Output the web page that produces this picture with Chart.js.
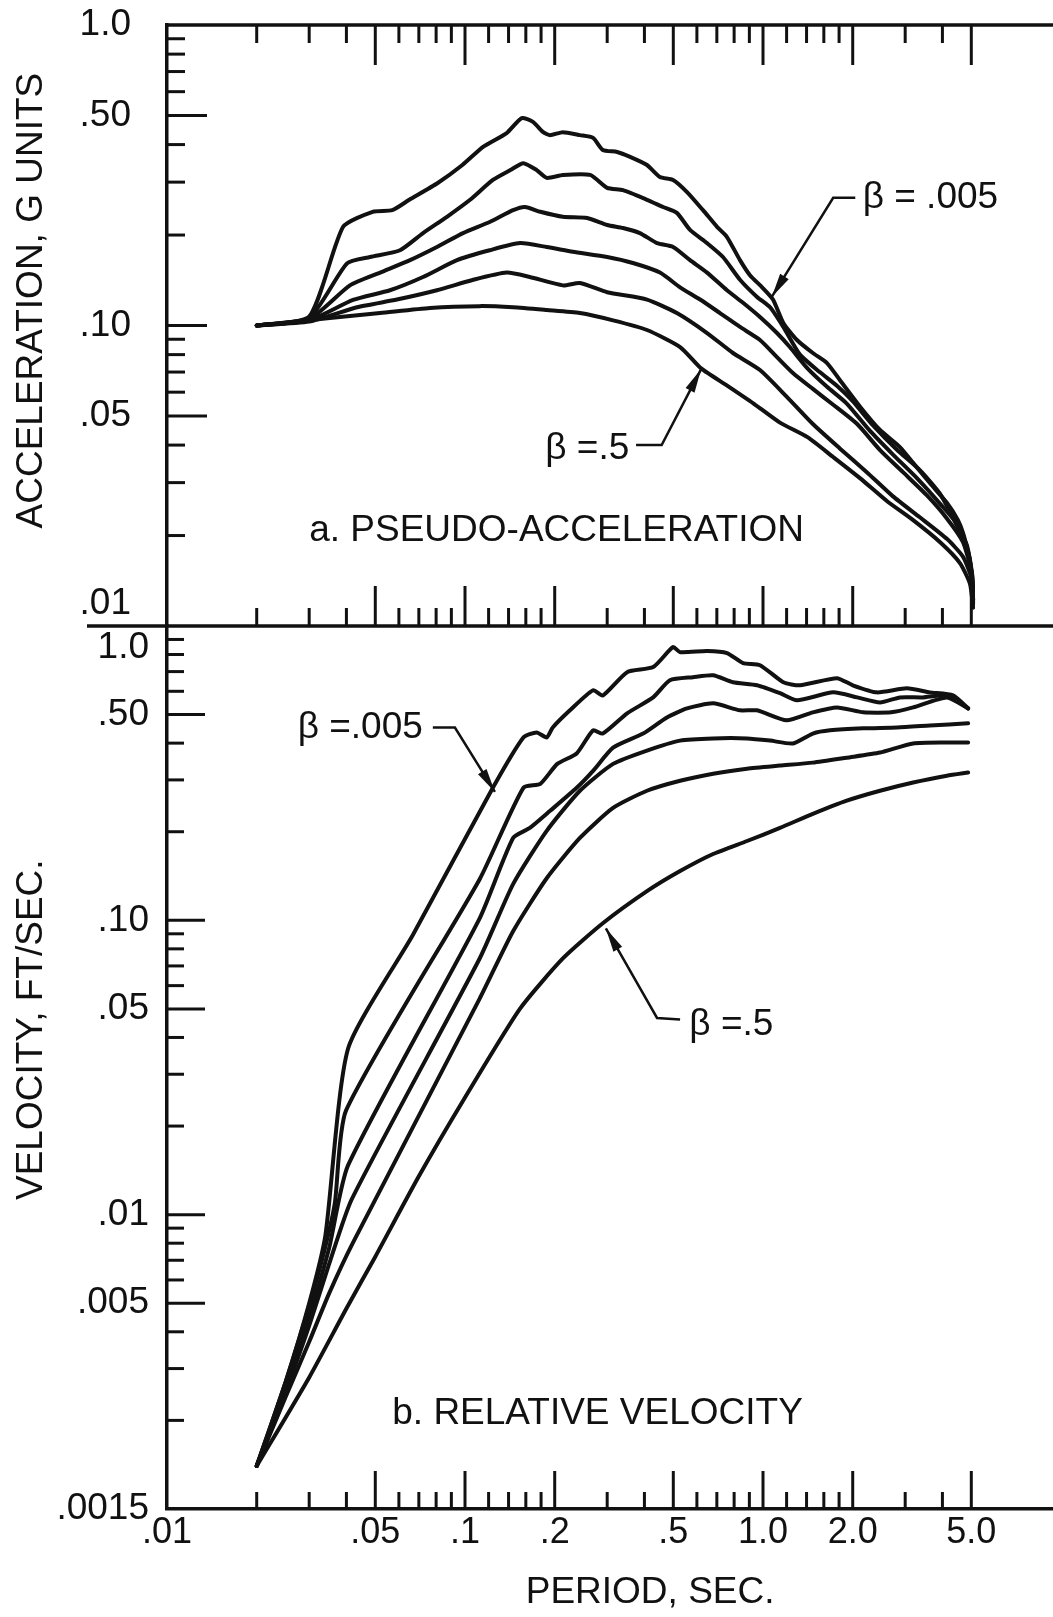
<!DOCTYPE html>
<html>
<head>
<meta charset="utf-8">
<title>Response spectra</title>
<script src="https://cdn.jsdelivr.net/npm/chart.js@4.4.1/dist/chart.umd.min.js"></script>
<style>
  body { margin: 0; background: #fff; }
  #sheet { position: relative; width: 1053px; height: 1617px; }
  #sheet canvas { position: absolute; left: 0; top: 0; }
</style>
</head>
<body>
<div id="sheet">
  <canvas id="accel" width="1053" height="1617"></canvas>
  <canvas id="vel" width="1053" height="1617"></canvas>
</div>
<script>
// period axis (shared)
const periodTicks = [0.01, 0.05, 0.1, 0.2, 0.5, 1, 2, 5];
const periodLabels = ['.01', '.05', '.1', '.2', '.5', '1.0', '2.0', '5.0'];
const periodMinor = [0.02, 0.03, 0.04, 0.06, 0.07, 0.08, 0.09, 0.12, 0.14, 0.16, 0.18,
  0.3, 0.4, 0.6, 0.7, 0.8, 0.9, 1.2, 1.4, 1.6, 1.8, 3, 4];

// acceleration axis
const accelTicks = [0.01, 0.05, 0.1, 0.5, 1];
const accelLabels = [['.01', ''], '.05', '.10', '.50', '1.0'];
const accelMajor = [0.05, 0.1, 0.5];
const accelMinor = [0.02, 0.03, 0.04, 0.06, 0.07, 0.08, 0.09, 0.2, 0.3, 0.4, 0.6, 0.7, 0.8, 0.9];

// velocity axis
const velTicks = [0.001, 0.005, 0.01, 0.05, 0.1, 0.5, 1];
const velLabels = ['.0015', '.005', '.01', '.05', '.10', '.50', ['', '1.0']];
const velMajor = [0.005, 0.01, 0.05, 0.1, 0.5];
const velMinor = [0.002, 0.003, 0.004, 0.006, 0.007, 0.008, 0.009, 0.02, 0.03, 0.04,
  0.06, 0.07, 0.08, 0.09, 0.2, 0.3, 0.4, 0.6, 0.7, 0.8, 0.9];

// a. pseudo-acceleration, [period, g]
const accB005 = [[0.02,0.100],[0.030,0.107],[0.039,0.213],[0.049,0.239],[0.057,0.242],[0.065,0.262],
  [0.081,0.298],[0.098,0.342],[0.115,0.393],[0.138,0.437],[0.155,0.49],[0.169,0.476],[0.183,0.44],
  [0.193,0.43],[0.213,0.44],[0.243,0.43],[0.269,0.421],[0.29,0.384],[0.324,0.378],[0.358,0.364],
  [0.408,0.342],[0.451,0.312],[0.499,0.305],[0.556,0.278],[0.629,0.242],[0.701,0.213],[0.757,0.197],
  [0.837,0.165],[0.904,0.147],[0.993,0.134],[1.08,0.122],[1.17,0.102],[1.30,0.0895],[1.47,0.081],
  [1.64,0.075],[1.81,0.0659],[2.12,0.0536],[2.47,0.0449],[2.88,0.0394],[3.19,0.0349],[3.63,0.0299],
  [4.14,0.0257],[4.51,0.0225],[4.69,0.0204],[4.88,0.0175],[5.03,0.015],[5.07,0.0122]];
const acc2 = [[0.02,0.100],[0.030,0.106],[0.0402,0.161],[0.048,0.169],[0.0605,0.178],[0.0723,0.203],
  [0.087,0.230],[0.104,0.262],[0.124,0.305],[0.142,0.329],[0.157,0.347],[0.174,0.329],[0.188,0.310],
  [0.213,0.317],[0.263,0.317],[0.30,0.287],[0.339,0.282],[0.408,0.262],[0.462,0.248],[0.514,0.237],
  [0.569,0.208],[0.649,0.188],[0.734,0.169],[0.837,0.142],[0.955,0.1245],[1.056,0.115],[1.17,0.0989],
  [1.33,0.080],[1.55,0.070],[1.77,0.063],[2.00,0.056],[2.34,0.0465],[2.82,0.0385],[3.36,0.033],
  [3.93,0.0275],[4.48,0.0215],[4.84,0.0185],[5.03,0.0145],[5.07,0.0122]];
const acc3 = [[0.02,0.100],[0.030,0.105],[0.0411,0.136],[0.0519,0.150],[0.0654,0.165],[0.0805,0.1825],
  [0.0985,0.203],[0.121,0.221],[0.145,0.242],[0.159,0.248],[0.179,0.239],[0.213,0.230],[0.257,0.228],
  [0.30,0.216],[0.339,0.211],[0.386,0.203],[0.441,0.188],[0.499,0.1825],[0.569,0.165],[0.649,0.150],
  [0.757,0.131],[0.857,0.119],[0.977,0.1067],[1.114,0.0944],[1.23,0.0848],[1.41,0.072],[1.64,0.0625],
  [1.91,0.055],[2.29,0.0445],[2.73,0.0372],[3.29,0.031],[3.93,0.0255],[4.58,0.0212],[4.95,0.0166],
  [5.07,0.0122]];
const acc4 = [[0.02,0.100],[0.030,0.104],[0.0421,0.1216],[0.056,0.131],[0.0723,0.145],[0.094,0.165],
  [0.121,0.178],[0.153,0.188],[0.188,0.1825],[0.23,0.176],[0.30,0.169],[0.366,0.1614],[0.451,0.150],
  [0.527,0.134],[0.615,0.122],[0.717,0.110],[0.837,0.0989],[0.977,0.0895],[1.114,0.0785],[1.26,0.0695],
  [1.47,0.0615],[1.72,0.0545],[2.07,0.047],[2.47,0.0385],[2.95,0.0325],[3.55,0.0272],[4.14,0.0228],
  [4.69,0.019],[5.03,0.0148],[5.07,0.012]];
const acc5 = [[0.02,0.100],[0.030,0.103],[0.0434,0.115],[0.0591,0.122],[0.0805,0.131],[0.106,0.1417],
  [0.138,0.150],[0.165,0.145],[0.213,0.136],[0.243,0.1385],[0.30,0.129],[0.408,0.122],[0.514,0.110],
  [0.649,0.0944],[0.793,0.081],[0.977,0.0711],[1.20,0.058],[1.47,0.047],[1.81,0.039],[2.23,0.0325],
  [2.73,0.027],[3.36,0.023],[4.14,0.0195],[4.69,0.017],[5.03,0.0142],[5.07,0.0118]];
const accB5 = [[0.02,0.100],[0.0352,0.106],[0.0519,0.110],[0.0763,0.1144],[0.112,0.116],[0.145,0.115],
  [0.188,0.1126],[0.243,0.110],[0.314,0.104],[0.408,0.0966],[0.527,0.0848],[0.62,0.072],[0.76,0.063],
  [0.93,0.055],[1.14,0.0475],[1.41,0.0425],[1.72,0.0365],[2.12,0.031],[2.61,0.026],[3.19,0.0225],
  [3.93,0.019],[4.58,0.0162],[4.95,0.0138],[5.07,0.0115]];

// b. relative velocity, [period, ft/sec]
const velB005 = [[0.02,0.0014],[0.025,0.0027],[0.03,0.0050],[0.034,0.0085],[0.0405,0.0366],
  [0.0669,0.0893],[0.124,0.282],[0.157,0.418],[0.174,0.435],[0.188,0.418],[0.197,0.452],[0.225,0.517],
  [0.269,0.605],[0.29,0.581],[0.350,0.697],[0.428,0.725],[0.499,0.848],[0.527,0.815],[0.649,0.822],
  [0.757,0.809],[0.857,0.748],[0.977,0.736],[1.17,0.644],[1.33,0.629],[1.77,0.665],[2.00,0.629],
  [2.41,0.595],[3.04,0.614],[3.63,0.595],[4.34,0.581],[4.88,0.525]];
const vel2 = [[0.02,0.0014],[0.025,0.0027],[0.03,0.0049],[0.034,0.0078],[0.0366,0.011],[0.0399,0.0226],
  [0.112,0.138],[0.157,0.282],[0.179,0.291],[0.204,0.340],[0.237,0.369],[0.269,0.442],[0.29,0.431],
  [0.350,0.505],[0.428,0.572],[0.487,0.654],[0.582,0.670],[0.680,0.680],[0.793,0.644],[0.955,0.629],
  [1.14,0.591],[1.30,0.559],[1.72,0.595],[2.07,0.572],[2.47,0.550],[2.88,0.572],[3.44,0.572],
  [4.14,0.581],[4.88,0.525]];
const vel3 = [[0.02,0.0014],[0.025,0.0026],[0.03,0.0045],[0.035,0.0077],[0.0405,0.0147],[0.112,0.1016],
  [0.145,0.1905],[0.165,0.206],[0.193,0.2355],[0.237,0.282],[0.269,0.322],[0.314,0.386],[0.396,0.431],
  [0.476,0.489],[0.556,0.525],[0.680,0.546],[0.837,0.517],[0.955,0.517],[1.20,0.478],[1.47,0.509],
  [1.77,0.529],[2.17,0.509],[2.69,0.509],[3.19,0.529],[4.14,0.572],[4.88,0.525]];
const vel4 = [[0.02,0.0014],[0.025,0.0025],[0.03,0.0042],[0.035,0.0068],[0.0417,0.0113],[0.112,0.0742],
  [0.145,0.1327],[0.188,0.2014],[0.243,0.2756],[0.314,0.340],[0.408,0.3774],[0.527,0.408],[0.680,0.415],
  [0.884,0.415],[1.056,0.408],[1.26,0.399],[1.47,0.431],[1.68,0.442],[2.17,0.449],[2.82,0.452],
  [3.63,0.459],[4.88,0.467]];
const vel5 = [[0.02,0.0014],[0.025,0.0024],[0.03,0.0037],[0.035,0.0054],[0.042,0.0080],[0.112,0.0542],
  [0.145,0.0918],[0.188,0.139],[0.243,0.1905],[0.314,0.241],[0.408,0.2756],[0.527,0.298],[0.680,0.315],
  [0.884,0.3275],[1.14,0.3355],[1.47,0.3434],[1.91,0.357],[2.47,0.3715],[3.19,0.399],[4.14,0.402],
  [4.88,0.402]];
const velB5 = [[0.02,0.0014],[0.03,0.0028],[0.04,0.0048],[0.05,0.0072],[0.07,0.0135],[0.1,0.025],
  [0.153,0.0501],[0.213,0.0742],[0.29,0.0977],[0.408,0.1256],[0.527,0.147],[0.680,0.168],[0.884,0.186],
  [1.14,0.206],[1.47,0.230],[1.91,0.255],[2.47,0.2756],[3.19,0.294],[4.14,0.310],[4.88,0.318]];

const INK = '#111';
const FONT = '"Liberation Sans", Arial, sans-serif';
Chart.defaults.font.family = FONT;
Chart.defaults.color = INK;

const toXY = pts => pts.map(([x, y]) => ({ x, y }));
const curves = list => list.map(pts => ({
  data: toXY(pts),
  borderColor: INK,
  borderWidth: 4,
  pointRadius: 0,
  tension: 0.2,
  fill: false,
  borderJoinStyle: 'round',
  borderCapStyle: 'round'
}));

// frame lines and inward tick marks
const frame = {
  id: 'frame',
  afterDraw(chart, args, o) {
    const { ctx, chartArea: a } = chart;
    const x = chart.scales.x, y = chart.scales.y;
    const seg = (x1, y1, x2, y2) => { ctx.beginPath(); ctx.moveTo(x1, y1); ctx.lineTo(x2, y2); ctx.stroke(); };
    ctx.save();
    ctx.strokeStyle = INK;
    ctx.lineWidth = 3.5;
    if (o.topLine) seg(a.left, a.top, a.right, a.top);
    if (o.bottomLine) seg(a.left - o.bottomLine, a.bottom, a.right, a.bottom);
    ctx.lineWidth = 3;
    o.xEdges.forEach(edge => {
      const y0 = edge === 'top' ? a.top : a.bottom;
      const dir = edge === 'top' ? 1 : -1;
      periodTicks.slice(1).forEach(v => { const px = x.getPixelForValue(v); seg(px, y0, px, y0 + dir * o.major); });
      periodMinor.forEach(v => { const px = x.getPixelForValue(v); seg(px, y0, px, y0 + dir * o.minor); });
    });
    o.yMajor.forEach(v => { const py = y.getPixelForValue(v); seg(a.left, py, a.left + o.major, py); });
    o.yMinor.forEach(v => { const py = y.getPixelForValue(v); seg(a.left, py, a.left + o.minor, py); });
    ctx.restore();
  }
};

// lettering, leader arrows and axis titles
const notes = {
  id: 'notes',
  afterDatasetsDraw(chart, args, o) {
    const { ctx, chartArea: a } = chart;
    const x = chart.scales.x, y = chart.scales.y;
    ctx.save();
    ctx.fillStyle = INK;
    ctx.strokeStyle = INK;
    ctx.font = '37px ' + FONT;
    ctx.textBaseline = 'middle';
    o.items.forEach(n => {
      ctx.textAlign = n.align;
      ctx.fillText(n.text, x.getPixelForValue(n.at[0]), y.getPixelForValue(n.at[1]));
      if (!n.path) return;
      const pts = n.path.map(([p, v]) => [x.getPixelForValue(p), y.getPixelForValue(v)]);
      ctx.lineWidth = 2.5;
      ctx.beginPath();
      pts.forEach(([px, py], i) => i ? ctx.lineTo(px, py) : ctx.moveTo(px, py));
      ctx.stroke();
      const [tx, ty] = pts[pts.length - 1];
      const [sx, sy] = pts[pts.length - 2];
      const ang = Math.atan2(ty - sy, tx - sx);
      const c = Math.cos(ang), s = Math.sin(ang);
      ctx.beginPath();
      ctx.moveTo(tx, ty);
      ctx.lineTo(tx - 24 * c + 5 * s, ty - 24 * s - 5 * c);
      ctx.lineTo(tx - 24 * c - 5 * s, ty - 24 * s + 5 * c);
      ctx.closePath();
      ctx.fill();
    });
    ctx.textAlign = 'center';
    if (o.yTitle) {
      ctx.save();
      ctx.translate(o.yTitle.left, y.getPixelForValue(o.yTitle.at));
      ctx.rotate(-Math.PI / 2);
      ctx.fillText(o.yTitle.text, 0, 0);
      ctx.restore();
    }
    if (o.xTitle) {
      ctx.fillText(o.xTitle.text, x.getPixelForValue(o.xTitle.at), a.bottom + o.xTitle.below);
    }
    ctx.restore();
  }
};

const periodScale = (show) => ({
  type: 'logarithmic',
  min: 0.01,
  max: 9.4,
  display: show,
  afterBuildTicks: s => { s.ticks = periodTicks.map(v => ({ value: v })); },
  afterFit: s => { s.height = show ? 108 : 0; s.paddingLeft = 0; s.paddingRight = 0; },
  grid: { display: false, drawTicks: false },
  border: { display: true, color: INK, width: 3.5 },
  ticks: {
    autoSkip: false, maxRotation: 0, padding: 2,
    font: { size: 36 }, color: INK,
    callback: (v, i) => periodLabels[i]
  }
});

const valueScale = (min, max, ticks, labels, pad) => ({
  type: 'logarithmic',
  min, max,
  afterBuildTicks: s => { s.ticks = ticks.map(v => ({ value: v })); },
  afterFit: s => { s.width = 167; s.paddingTop = 0; s.paddingBottom = 0; },
  grid: { display: false, drawTicks: false },
  border: { display: true, color: INK, width: 3.5 },
  ticks: {
    autoSkip: false, padding: pad,
    font: { size: 37 }, color: INK,
    callback: (v, i) => labels[i]
  }
});

const base = {
  responsive: false,
  animation: false,
  devicePixelRatio: 1,
  events: []
};

new Chart(document.getElementById('accel'), {
  type: 'line',
  data: { datasets: curves([accB005, acc2, acc3, acc4, acc5, accB5]) },
  options: {
    ...base,
    layout: { padding: { left: 0, right: 0, top: 25, bottom: 991 } },
    scales: {
      x: periodScale(false),
      y: valueScale(0.01, 1, accelTicks, accelLabels, 36)
    },
    plugins: {
      legend: { display: false },
      tooltip: { enabled: false },
      frame: { topLine: true, bottomLine: 80, xEdges: ['top', 'bottom'], major: 40, minor: 18,
        yMajor: accelMajor, yMinor: accelMinor },
      notes: {
        yTitle: { text: 'ACCELERATION, G UNITS', at: 0.121, left: 32 },
        items: [
          { text: 'a. PSEUDO-ACCELERATION', at: [0.03, 0.0207], align: 'left' },
          { text: 'β = .005', at: [2.16, 0.266], align: 'left', path: [[2.04, 0.266], [1.72, 0.266], [1.07, 0.1245]] },
          { text: 'β =.5', at: [0.356, 0.039], align: 'right', path: [[0.375, 0.040], [0.457, 0.040], [0.62, 0.0716]] }
        ]
      }
    }
  },
  plugins: [frame, notes]
});

new Chart(document.getElementById('vel'), {
  type: 'line',
  data: { datasets: curves([velB005, vel2, vel3, vel4, vel5, velB5]) },
  options: {
    ...base,
    layout: { padding: { left: 0, right: 0, top: 626, bottom: 0 } },
    scales: {
      x: periodScale(true),
      y: valueScale(0.001, 1, velTicks, velLabels, 18)
    },
    plugins: {
      legend: { display: false },
      tooltip: { enabled: false },
      frame: { topLine: false, bottomLine: 0, xEdges: ['bottom'], major: 38, minor: 17,
        yMajor: velMajor, yMinor: velMinor },
      notes: {
        yTitle: { text: 'VELOCITY, FT/SEC.', at: 0.0425, left: 32 },
        xTitle: { text: 'PERIOD, SEC.', at: 0.418, below: 84 },
        items: [
          { text: 'b. RELATIVE VELOCITY', at: [0.057, 0.0021], align: 'left' },
          { text: 'β =.005', at: [0.0722, 0.452], align: 'right', path: [[0.078, 0.452], [0.0925, 0.452], [0.126, 0.273]] },
          { text: 'β =.5', at: [0.566, 0.0442], align: 'left', path: [[0.527, 0.046], [0.441, 0.0466], [0.297, 0.0939]] }
        ]
      }
    }
  },
  plugins: [frame, notes]
});
</script>
</body>
</html>
